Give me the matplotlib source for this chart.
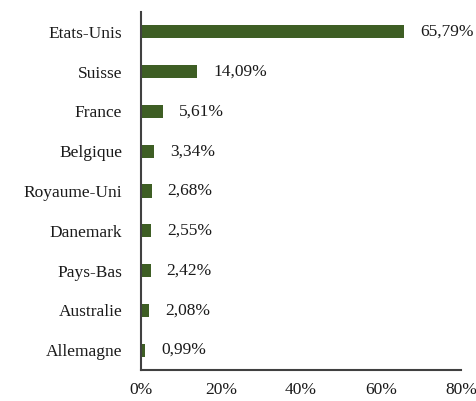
import matplotlib.pyplot as plt
from matplotlib.ticker import FuncFormatter

countries = ['Etats-Unis', 'Suisse', 'France', 'Belgique', 'Royaume-Uni',
             'Danemark', 'Pays-Bas', 'Australie', 'Allemagne']
shares = [65.79, 14.09, 5.61, 3.34, 2.68, 2.55, 2.42, 2.08, 0.99]

bar_color = '#3e5e24'
axis_color = '#404040'
text_color = '#1a1a1a'
font_size = 12.5

plt.rcParams['font.family'] = ['Liberation Serif', 'DejaVu Serif']

fig = plt.figure(figsize=(4.77, 4.01), dpi=100)
ax = fig.add_axes([0.2956, 0.0773, 0.671, 0.8927])

y_pos = list(range(len(countries)))
ax.barh(y_pos, shares, height=0.33, color=bar_color)
ax.set_yticks(y_pos)
ax.set_yticklabels(countries)
ax.set_ylim(len(countries) - 0.5, -0.5)
ax.set_xlim(0, 80)
ax.set_xticks([0, 20, 40, 60, 80])
ax.xaxis.set_major_formatter(FuncFormatter(lambda v, p: f'{int(v)}%'))

for y, v in zip(y_pos, shares):
    ax.annotate(f'{v:.2f}%'.replace('.', ','), (v, y), xytext=(11.5, 0),
                textcoords='offset points', va='center', ha='left',
                fontsize=font_size, color=text_color)

for spine in ['right', 'top']:
    ax.spines[spine].set_visible(False)
for spine in ['left', 'bottom']:
    ax.spines[spine].set_color(axis_color)
    ax.spines[spine].set_linewidth(1.5)

ax.tick_params(axis='y', length=0, pad=13.5, labelsize=font_size, labelcolor=text_color)
ax.tick_params(axis='x', length=0, pad=8.5, labelsize=font_size, labelcolor=text_color)

plt.savefig('out.png', dpi=100)
